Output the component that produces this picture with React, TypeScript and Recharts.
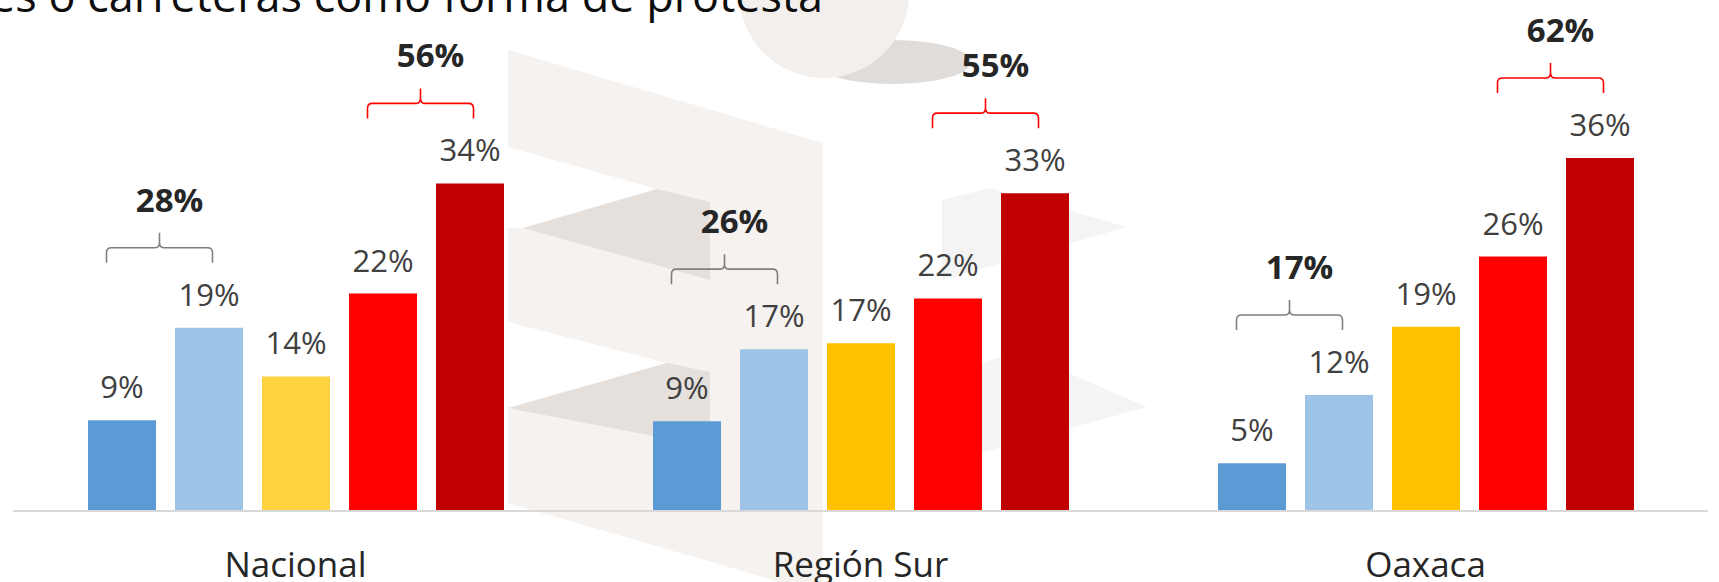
import React from 'react';
import { BarChart, Bar, XAxis, YAxis, LabelList, Cell } from 'recharts';

// ---- data ----
const categories = ['Nacional', 'Región Sur', 'Oaxaca'];
const deAcuerdo = [9.3, 9.2, 4.9];
const algoDeAcuerdo = [18.8, 16.6, 11.9];
const niAcuerdoNiDesacuerdo = [13.8, 17.2, 18.9];
const algoEnDesacuerdo = [22.3, 21.8, 26.1];
const enDesacuerdo = [33.6, 32.6, 36.2];
const totalAcuerdo = [28, 26, 17];
const totalDesacuerdo = [56, 55, 62];
const titleText = 'es o carreteras como forma de protesta';

// ---- style ----
const W = 1719;
const H = 582;
const BAR_SIZE = 68;
const BAR_GAP = 19;
const PITCH = BAR_SIZE + BAR_GAP;
const FONT = "'Open Sans', 'Noto Sans', sans-serif";
const yellowByCategory = ['#ffd23f', '#ffc000', '#ffc000'];

const data = categories.map((c, i) => ({
  name: c,
  a: deAcuerdo[i],
  b: algoDeAcuerdo[i],
  c: niAcuerdoNiDesacuerdo[i],
  d: algoEnDesacuerdo[i],
  e: enDesacuerdo[i],
}));

const pct = (v: any) => `${Math.round(Number(v))}%`;

function makeBracket(prevSeries: number[], totals: number[], color: string) {
  return (props: any) => {
    const vb = props.viewBox || {};
    const x = Number(props.x ?? vb.x);
    const y = Number(props.y ?? vb.y);
    const width = Number(props.width ?? vb.width);
    const height = Number(props.height ?? vb.height);
    const index = Number(props.index);
    const value = Number(props.value);
    if (!isFinite(x) || !isFinite(y) || !value) return null;
    const base = y + height;
    const ppu = height / value;
    const prevTop = base - prevSeries[index] * ppu;
    const top = Math.min(y, prevTop);
    const cB = x + width / 2;
    const cA = cB - PITCH;
    const mid = (cA + cB) / 2;
    const bc = mid - 6;
    const half = 53;
    const x1 = bc - half;
    const x2 = bc + half;
    const yb = top - 65;
    const ym = yb - 15;
    const yt = ym - 15;
    const r = 5;
    const d = [
      `M ${x1} ${yb}`,
      `L ${x1} ${ym + r}`,
      `Q ${x1} ${ym} ${x1 + r} ${ym}`,
      `L ${bc - r} ${ym}`,
      `Q ${bc} ${ym} ${bc} ${ym - r}`,
      `L ${bc} ${yt}`,
      `M ${bc} ${ym - r}`,
      `Q ${bc} ${ym} ${bc + r} ${ym}`,
      `L ${x2 - r} ${ym}`,
      `Q ${x2} ${ym} ${x2} ${ym + r}`,
      `L ${x2} ${yb}`,
    ].join(' ');
    return (
      <g>
        <path d={d} fill="none" stroke={color} strokeWidth={1.6} />
        <text
          x={mid + 4}
          y={yt - 21}
          textAnchor="middle"
          fontSize={33}
          fontWeight={700}
          fill="#262626"
          fontFamily={FONT}
        >
          {`${totals[index]}%`}
        </text>
      </g>
    );
  };
}

const CategoryTick = (props: any) => {
  const { x, y, payload } = props;
  return (
    <text x={x} y={y + 66} textAnchor="middle" fontSize={35} fill="#262626" fontFamily={FONT}>
      {payload.value}
    </text>
  );
};

const Watermark = () => (
  <svg width={W} height={H} style={{ position: 'absolute', left: 0, top: 0 }}>
    <polygon points="508,50 823,143 823,582 508,582" fill="#f5f2f0" />
    <polygon points="508,147 657,189 523,228 508,228" fill="#ffffff" />
    <polygon points="508,322 667,363 508,408" fill="#ffffff" />
    <polygon points="508,503 780,582 508,582" fill="#ffffff" />
    <polygon points="523,228 657,189 710,202 710,280" fill="#e6e0dd" />
    <polygon points="508,408 667,363 710,372 710,447" fill="#e6e0dd" />
    <polygon points="942,200 990,188 1127,227 942,280" fill="#f4f4f4" />
    <polygon points="980,363 1020,352 1147,407 980,453" fill="#f5f5f5" />
    <ellipse cx={893} cy={62} rx={78} ry={22} fill="#dfdcda" />
    <circle cx={824} cy={-7} r={85} fill="#f2efed" />
    <text x={823} y={12} textAnchor="end" fontSize={45} fill="#0d0d0d" fontFamily={FONT}>
      {titleText}
    </text>
  </svg>
);

export default function App() {
  return (
    <div
      style={{
        position: 'absolute',
        left: 0,
        top: 0,
        width: W,
        height: H,
        overflow: 'hidden',
        background: '#ffffff',
        fontFamily: FONT,
      }}
    >
      <Watermark />
      <div style={{ position: 'absolute', left: 0, top: 0 }}>
        <BarChart
          width={W}
          height={H}
          data={data}
          margin={{ top: 23.5, right: 11, left: 13, bottom: 0 }}
          barSize={BAR_SIZE}
          barGap={BAR_GAP}
        >
          <YAxis hide domain={[0, 50]} />
          <XAxis
            dataKey="name"
            height={71}
            tickSize={0}
            tickMargin={0}
            tickLine={false}
            axisLine={{ stroke: '#d9d9d9', strokeWidth: 2 }}
            tick={<CategoryTick />}
            interval={0}
          />
          <Bar dataKey="a" fill="#5b9bd5" isAnimationActive={false}>
            <LabelList dataKey="a" position="top" offset={22} formatter={pct} fontSize={31} fill="#404040" fontFamily={FONT} />
          </Bar>
          <Bar dataKey="b" fill="#9dc3e6" isAnimationActive={false}>
            <LabelList dataKey="b" position="top" offset={22} formatter={pct} fontSize={31} fill="#404040" fontFamily={FONT} />
            <LabelList dataKey="b" content={makeBracket(deAcuerdo, totalAcuerdo, '#7f7f7f')} />
          </Bar>
          <Bar dataKey="c" isAnimationActive={false}>
            {data.map((_, i) => (
              <Cell key={i} fill={yellowByCategory[i]} />
            ))}
            <LabelList dataKey="c" position="top" offset={22} formatter={pct} fontSize={31} fill="#404040" fontFamily={FONT} />
          </Bar>
          <Bar dataKey="d" fill="#ff0000" isAnimationActive={false}>
            <LabelList dataKey="d" position="top" offset={22} formatter={pct} fontSize={31} fill="#404040" fontFamily={FONT} />
          </Bar>
          <Bar dataKey="e" fill="#c00000" isAnimationActive={false}>
            <LabelList dataKey="e" position="top" offset={22} formatter={pct} fontSize={31} fill="#404040" fontFamily={FONT} />
            <LabelList dataKey="e" content={makeBracket(algoEnDesacuerdo, totalDesacuerdo, '#ff0000')} />
          </Bar>
        </BarChart>
      </div>
    </div>
  );
}
